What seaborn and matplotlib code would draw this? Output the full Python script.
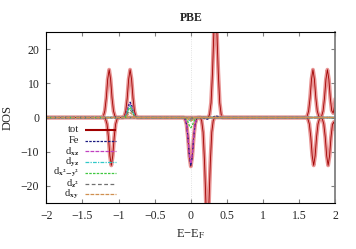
import matplotlib
matplotlib.use("Agg")
import matplotlib.pyplot as plt
import seaborn as sns

# ----------------------------
# DOS data (E - E_F in eV, spin up > 0, spin down < 0)
# ----------------------------
tot_up_E = [-2.0,
            -1.23, -1.21, -1.19, -1.17, -1.15, -1.13, -1.11, -1.09, -1.07, -1.05, -1.03,
            -0.94, -0.92, -0.90, -0.88, -0.86, -0.84, -0.82, -0.80, -0.78, -0.76, -0.74,
            0.24, 0.26, 0.28, 0.30, 0.32, 0.34, 0.36, 0.38, 0.40, 0.42, 0.44,
            1.59, 1.61, 1.63, 1.65, 1.67, 1.69, 1.71, 1.73, 1.75, 1.77, 1.79,
            1.81, 1.83, 1.85, 1.87, 1.89, 1.91, 1.93, 1.95, 1.97, 1.99, 2.0]
tot_up = [0,
          0, 0.4, 1.9, 5.7, 11.2, 14, 11.2, 5.7, 1.9, 0.4, 0,
          0, 0.4, 1.9, 5.7, 11.2, 14, 11.2, 5.7, 1.9, 0.4, 0,
          0, 0.9, 4.3, 13.1, 25.6, 32, 25.6, 13.1, 4.3, 0.9, 0,
          0, 0.4, 1.9, 5.7, 11.2, 14, 11.2, 5.7, 1.9, 0.4, 0.1,
          0.4, 1.9, 5.7, 11.2, 14, 11.2, 5.7, 2.0, 1.3, 3.5, 5.5]

tot_dn_E = [-2.0,
            -1.20, -1.18, -1.16, -1.14, -1.12, -1.10, -1.08, -1.06, -1.04, -1.02, -1.00,
            -0.10, -0.08, -0.06, -0.04, -0.02, 0.00, 0.02, 0.04, 0.06, 0.08, 0.10,
            0.13, 0.15, 0.17, 0.19, 0.21, 0.23, 0.25, 0.27, 0.29, 0.31, 0.33,
            1.60, 1.62, 1.64, 1.66, 1.68, 1.70, 1.72, 1.74, 1.76, 1.78, 1.80,
            1.82, 1.84, 1.86, 1.88, 1.90, 1.92, 1.94, 1.96, 1.98, 2.0]
tot_dn = [0,
          0, -0.4, -1.9, -5.7, -11.2, -14, -11.2, -5.7, -1.9, -0.4, 0,
          0, -0.4, -1.9, -5.8, -11.4, -14.3, -11.4, -5.8, -1.9, -0.4, 0,
          0, -0.9, -4.3, -13.1, -25.6, -32, -25.6, -13.1, -4.3, -0.9, 0,
          0, -0.4, -1.9, -5.7, -11.2, -14, -11.2, -5.7, -1.9, -0.4, -0.1,
          -0.4, -1.9, -5.7, -11.2, -14, -11.2, -5.7, -2.0, -1.3, -3.5]

fe_up_E = [-2.0, -0.94, -0.92, -0.90, -0.88, -0.86, -0.84, -0.82, -0.80, -0.78, -0.76, -0.74,
           0.30, 0.33, 0.36, 0.39, 0.42, 2.0]
fe_up = [0, 0, 0.1, 0.6, 1.8, 3.6, 4.5, 3.6, 1.8, 0.6, 0.1, 0,
         0, 0.3, 0.4, 0.2, 0, 0]
fe_dn_E = [-2.0, -0.10, -0.08, -0.06, -0.04, -0.02, 0.00, 0.02, 0.04, 0.06, 0.08, 0.10,
           0.17, 0.20, 0.23, 0.26, 2.0]
fe_dn = [0, 0, -0.4, -1.9, -5.7, -11.2, -14, -11.2, -5.7, -1.9, -0.4, 0,
         0, -0.4, -0.5, 0, 0]

# d-orbital projections share two energy grids
d_E_up = [-2.0, -0.94, -0.92, -0.90, -0.88, -0.86, -0.84, -0.82, -0.80, -0.78, -0.76, -0.74, 2.0]
d_E_dn = [-2.0, -0.10, -0.08, -0.06, -0.04, -0.02, 0.00, 0.02, 0.04, 0.06, 0.08, 0.10, 2.0]

dxz_up = [0, 0, 0.1, 0.5, 1.6, 3.1, 3.9, 3.1, 1.6, 0.5, 0.1, 0, 0]
dxz_dn = [0, 0, -0.4, -1.8, -5.5, -10.8, -13.5, -10.8, -5.5, -1.8, -0.4, 0, 0]
dyz_up = [0, 0, 0.1, 0.5, 1.4, 2.8, 3.5, 2.8, 1.4, 0.5, 0.1, 0, 0]
dyz_dn = [0, 0, 0, -0.1, -0.4, -0.8, -1.0, -0.8, -0.4, -0.1, 0, 0, 0]
dx2y2_up = [0, 0, 0.1, 0.4, 1.2, 2.4, 3.0, 2.4, 1.2, 0.4, 0.1, 0, 0]
dx2y2_dn = [0, 0, -0.1, -0.4, -1.2, -2.4, -3.0, -2.4, -1.2, -0.4, -0.1, 0, 0]
dz2_up = [0, 0, 0.1, 0.3, 0.9, 1.8, 2.2, 1.8, 0.9, 0.3, 0.1, 0, 0]
dz2_dn = [0, 0, 0, -0.1, -0.2, -0.4, -0.5, -0.4, -0.2, -0.1, 0, 0, 0]
dxy_up = [0, 0, 0, 0.2, 0.6, 1.1, 1.4, 1.1, 0.6, 0.2, 0, 0, 0]
dxy_dn = [0, 0, 0, -0.1, -0.4, -0.8, -1.0, -0.8, -0.4, -0.1, 0, 0, 0]

x_ticks = [-2, -1.5, -1, -0.5, 0, 0.5, 1, 1.5, 2]
x_tick_labels = ["\u22122", "\u22121.5", "\u22121", "\u22120.5", "0", "0.5", "1", "1.5", "2"]
y_ticks = [-20, -10, 0, 10, 20]
y_tick_labels = ["\u221220", "\u221210", "0", "10", "20"]

# ----------------------------
# Style (gnuplot look)
# ----------------------------
sns.set_style("ticks")
plt.rcParams["font.family"] = ["Liberation Serif", "DejaVu Serif"]
plt.rcParams["mathtext.fontset"] = "stix"
plt.rcParams["font.size"] = 8.5

fig = plt.figure(figsize=(3.56, 2.49), dpi=100)
ax = fig.add_axes([0.130, 0.185, 0.812, 0.686])

ax.axvline(0, color="#d8d8d8", lw=0.6, ls=":", zorder=0)

# total DOS: light halo + dark core
for E, v in [(tot_up_E, tot_up), (tot_dn_E, tot_dn)]:
    sns.lineplot(x=E, y=v, ax=ax, color="#e89494", lw=2.8, estimator=None, sort=False)
    sns.lineplot(x=E, y=v, ax=ax, color="#a00000", lw=0.6, estimator=None, sort=False)

series = [
    ("tot", None, None, "#a00000", "-"),
    ("Fe", (fe_up_E, fe_up), (fe_dn_E, fe_dn), "#1a1a80", (0, (2, 1))),
    ("d$_{\\mathbf{xz}}$", (d_E_up, dxz_up), (d_E_dn, dxz_dn), "#c040c0", (0, (3, 1))),
    ("d$_{\\mathbf{yz}}$", (d_E_up, dyz_up), (d_E_dn, dyz_dn), "#30c8c8", (0, (3, 1, 1, 1))),
    ("d$_{\\mathbf{x^2\\!-\\!y^2}}$", (d_E_up, dx2y2_up), (d_E_dn, dx2y2_dn), "#40c840", (0, (2, 1))),
    ("d$_{\\mathbf{z^2}}$", (d_E_up, dz2_up), (d_E_dn, dz2_dn), "#707070", (0, (3, 2))),
    ("d$_{\\mathbf{xy}}$", (d_E_up, dxy_up), (d_E_dn, dxy_dn), "#d09050", (0, (3, 1))),
]

for name, up, dn, col, ls in series:
    if up is None:
        continue
    sns.lineplot(x=up[0], y=up[1], ax=ax, color=col, lw=0.9, ls=ls,
                 estimator=None, sort=False)
    sns.lineplot(x=dn[0], y=dn[1], ax=ax, color=col, lw=0.9, ls=ls,
                 estimator=None, sort=False)

# gnuplot-style key: right-aligned labels, sample line to the right
key_top, key_step = 0.428, 0.063
for i, (name, up, dn, col, ls) in enumerate(series):
    yk = key_top - i * key_step
    lw = 1.5 if up is None else 0.9
    ax.plot([0.135, 0.24], [yk, yk], transform=ax.transAxes, color=col, lw=lw, ls=ls,
            solid_capstyle="butt")
    ax.text(0.113, yk, name, transform=ax.transAxes, ha="right", va="center",
            fontsize=7.6)

ax.set_xlim(-2, 2)
ax.set_ylim(-25, 25)
ax.set_xticks(x_ticks)
ax.set_xticklabels(x_tick_labels)
ax.set_yticks(y_ticks)
ax.set_yticklabels(y_tick_labels)
ax.tick_params(direction="in", length=3, width=0.8, color="#808080",
               top=True, right=True, labelsize=8.5, pad=5)

for s in ["left", "top", "bottom"]:
    ax.spines[s].set_color("black")
    ax.spines[s].set_linewidth(0.8)
ax.spines["right"].set_color("#808080")
ax.spines["right"].set_linewidth(1.3)

ax.set_title("PBE", fontsize=8.5, fontweight="bold", pad=8)
ax.set_xlabel("E\u2212E$_{\\mathrm{F}}$", fontsize=9, labelpad=4)
ax.set_ylabel("DOS", fontsize=9, labelpad=5)

fig.savefig("out.png", dpi=100)
